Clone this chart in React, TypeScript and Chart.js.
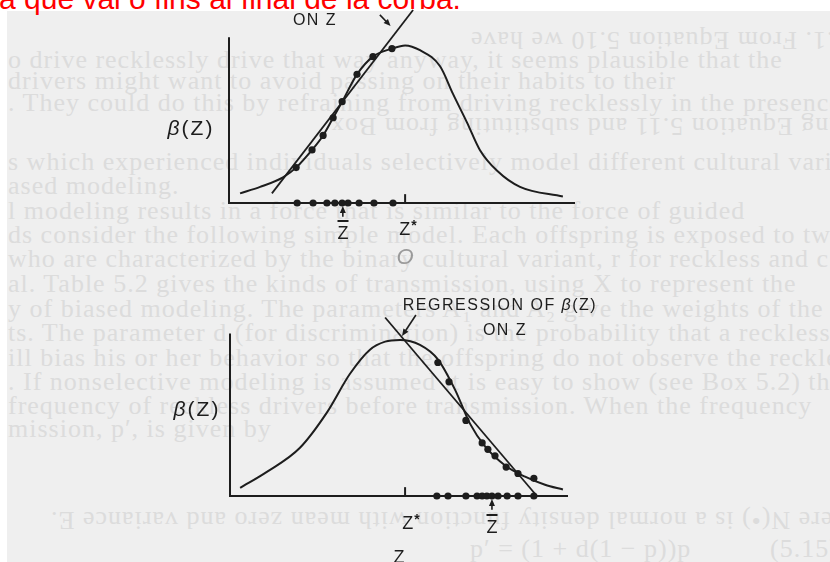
import React, { useEffect, useRef } from "react";
import { Chart, registerables } from "chart.js";

Chart.register(...registerables);

// ---------- DATA (upper diagram) ----------
const topCurveZ = [0.32, 0.9, 1.56, 1.94, 2.4, 2.72, 3.01, 3.27, 3.7, 4.16, 4.71, 5.09, 5.52, 6.1, 6.47, 6.88, 7.25, 7.75, 8.41, 9.65];
const topCurveB = [0.06, 0.1, 0.16, 0.22, 0.33, 0.42, 0.53, 0.63, 0.8, 0.91, 0.96, 0.98, 0.95, 0.85, 0.68, 0.5, 0.33, 0.2, 0.1, 0.04];
const topDotZ = [1.94, 2.4, 2.72, 3.01, 3.27, 3.7, 4.16, 4.71];
const topDotB = [0.22, 0.33, 0.42, 0.53, 0.63, 0.8, 0.91, 0.96];
const topAxisDotZ = [1.97, 2.43, 2.83, 3.06, 3.27, 3.44, 3.76, 4.19, 4.74];
const topRegZ = [1.24, 5.32];
const topRegB = [0.06, 1.2];
const topZStar = 5.09;
const topZBar = 3.29;
const topPointerZ = [4.36, 4.67];
const topPointerB = [1.17, 1.1];

// ---------- DATA (lower diagram) ----------
const botCurveZ = [0.3, 1.09, 2.07, 2.87, 3.55, 4.14, 4.59, 5.03, 5.62, 6.15, 6.66, 7.1, 7.54, 8.14, 8.73, 9.32, 9.85];
const botCurveB = [0.05, 0.15, 0.3, 0.52, 0.76, 0.91, 0.96, 0.97, 0.94, 0.85, 0.66, 0.45, 0.31, 0.19, 0.12, 0.07, 0.04];
const botDotZ = [6.15, 6.48, 6.98, 7.46, 7.63, 7.84, 8.17, 8.52, 8.99];
const botDotB = [0.83, 0.71, 0.47, 0.33, 0.29, 0.25, 0.18, 0.14, 0.11];
const botAxisDotZ = [6.12, 6.45, 6.98, 7.31, 7.46, 7.6, 7.75, 7.93, 8.2, 8.52, 8.99];
const botRegZ = [4.59, 9.08];
const botRegB = [1.11, 0];
const botZStar = 5.18;
const botZBar = 7.75;
const botPointerZ = [5.5, 5.09];
const botPointerB = [1.125, 0.995];

// shared
const axisZEnd = 10;
const topAxisBTop = 1.03;
const botAxisBTop = 1.01;

const INK = "#1d1d1d";

type Panel = { ox: number; oy: number; kx: number; ky: number; left: number; top: number; width: number; height: number };
const TOP_PANEL: Panel = { ox: 229, oy: 203, kx: 34.6, ky: 160.83, left: 194, top: 2, width: 416, height: 234 };
const BOT_PANEL: Panel = { ox: 230, oy: 496, kx: 33.8, ky: 160.83, left: 196, top: 295, width: 416, height: 234 };

const zip = (xs: number[], ys: number[]) => xs.map((x, i) => ({ x, y: ys[i] }));

const arrowPlugin = {
  id: "arrows",
  afterDatasetsDraw(chart: any, _args: any, opts: any) {
    const ctx = chart.ctx;
    const xs = chart.scales.x;
    const ys = chart.scales.y;
    (opts.items || []).forEach((a: number[]) => {
      const x1 = xs.getPixelForValue(a[0]);
      const y1 = ys.getPixelForValue(a[1]);
      const x2 = xs.getPixelForValue(a[2]);
      const y2 = ys.getPixelForValue(a[3]);
      const ang = Math.atan2(y2 - y1, x2 - x1);
      const hl = 7;
      const hw = 3;
      ctx.save();
      ctx.strokeStyle = INK;
      ctx.fillStyle = INK;
      ctx.lineWidth = 1.6;
      ctx.beginPath();
      ctx.moveTo(x1, y1);
      ctx.lineTo(x2 - Math.cos(ang) * hl * 0.6, y2 - Math.sin(ang) * hl * 0.6);
      ctx.stroke();
      ctx.beginPath();
      ctx.moveTo(x2, y2);
      ctx.lineTo(x2 - Math.cos(ang) * hl - Math.sin(ang) * hw, y2 - Math.sin(ang) * hl + Math.cos(ang) * hw);
      ctx.lineTo(x2 - Math.cos(ang) * hl + Math.sin(ang) * hw, y2 - Math.sin(ang) * hl - Math.cos(ang) * hw);
      ctx.closePath();
      ctx.fill();
      ctx.restore();
    });
  },
};

function buildConfig(p: Panel, d: any): any {
  const xmin = (p.left - p.ox) / p.kx;
  const xmax = (p.left + p.width - p.ox) / p.kx;
  const ymax = (p.oy - p.top) / p.ky;
  const ymin = (p.oy - p.top - p.height) / p.ky;
  const base = { clip: false, borderColor: INK, backgroundColor: INK };
  return {
    type: "scatter",
    data: {
      datasets: [
        { ...base, data: [{ x: 0, y: d.axisTop }, { x: 0, y: 0 }, { x: axisZEnd, y: 0 }], showLine: true, borderWidth: 2, pointRadius: 0, tension: 0 },
        { ...base, data: zip(d.curveZ, d.curveB), showLine: true, borderWidth: 2, pointRadius: 0, cubicInterpolationMode: "monotone" },
        { ...base, data: zip(d.regZ, d.regB), showLine: true, borderWidth: 1.8, pointRadius: 0 },
        { ...base, data: zip(d.dotZ, d.dotB), pointRadius: 3.6, borderWidth: 0 },
        { ...base, data: d.axisDotZ.map((z: number) => ({ x: z, y: 0 })), pointRadius: 3.6, borderWidth: 0 },
        { ...base, data: [{ x: d.zStar, y: 0 }, { x: d.zStar, y: 0.055 }], showLine: true, borderWidth: 2, pointRadius: 0 },
      ],
    },
    options: {
      animation: false,
      responsive: false,
      events: [],
      layout: { padding: 0, autoPadding: false },
      scales: {
        x: { type: "linear", display: false, min: xmin, max: xmax },
        y: { type: "linear", display: false, min: ymin, max: ymax },
      },
      plugins: {
        legend: { display: false },
        tooltip: { enabled: false },
        arrows: {
          items: [
            [d.pointerZ[0], d.pointerB[0], d.pointerZ[1], d.pointerB[1]],
            [d.zBar, -0.085, d.zBar, -0.018],
          ],
        },
      },
    },
    plugins: [arrowPlugin],
  };
}

function Diagram({ p, d }: { p: Panel; d: any }) {
  const ref = useRef<HTMLCanvasElement>(null);
  useEffect(() => {
    if (!ref.current) return;
    const c = new Chart(ref.current, buildConfig(p, d));
    return () => c.destroy();
  }, []);
  return (
    <canvas
      ref={ref}
      width={p.width}
      height={p.height}
      style={{ position: "absolute", left: p.left, top: p.top, width: p.width, height: p.height }}
    />
  );
}

const topData = {
  curveZ: topCurveZ, curveB: topCurveB, dotZ: topDotZ, dotB: topDotB, axisDotZ: topAxisDotZ,
  regZ: topRegZ, regB: topRegB, zStar: topZStar, zBar: topZBar, pointerZ: topPointerZ, pointerB: topPointerB, axisTop: topAxisBTop,
};
const botData = {
  curveZ: botCurveZ, curveB: botCurveB, dotZ: botDotZ, dotB: botDotB, axisDotZ: botAxisDotZ,
  regZ: botRegZ, regB: botRegB, zStar: botZStar, zBar: botZBar, pointerZ: botPointerZ, pointerB: botPointerB, axisTop: botAxisBTop,
};

// faint show-through text of the scanned book page
const ghostLines: [number, number, string, boolean?][] = [
  [40, 470, "Box 5.1. From Equation 5.10 we have", true],
  [60, 8, "o drive recklessly drive that way anyway, it seems plausible that the"],
  [81, 8, "drivers might want to avoid passing on their habits to their"],
  [103, 8, ". They could do this by refraining from driving recklessly in the presence"],
  [126, 330, "Using Equation 5.11 and substituting from Box", true],
  [162, 8, "s which experienced individuals selectively model different cultural vari-"],
  [186, 8, "ased modeling."],
  [211, 8, "l modeling results in a force that is similar to the force of guided"],
  [235, 8, "ds consider the following simple model. Each offspring is exposed to two"],
  [259, 8, "who are characterized by the binary cultural variant, r for reckless and c"],
  [284, 8, "al. Table 5.2 gives the kinds of transmission, using X to represent the"],
  [309, 8, "y of biased modeling. The parameters A\u2081 and A\u2082 give the weights of the"],
  [333, 8, "ts. The parameter d (for discrimination) is the probability that a reckless"],
  [358, 8, "ill bias his or her behavior so that the offspring do not observe the reckless"],
  [382, 8, ". If nonselective modeling is assumed it is easy to show (see Box 5.2) that"],
  [406, 8, "frequency of reckless drivers before transmission. When the frequency"],
  [429, 8, "mission, p\u2032, is given by"],
  [520, 50, "where N(\u2022) is a normal density function with mean zero and variance E.", true],
  [549, 470, "p\u2032 = (1 + d(1 \u2212 p))p"],
  [549, 770, "(5.15)"],
];

function Label({ x, y, size, children, style }: any) {
  return (
    <div
      style={{
        position: "absolute",
        left: x,
        top: y,
        transform: "translate(-50%, -50%)",
        fontFamily: "'Liberation Sans', Arial, sans-serif",
        fontSize: size,
        color: INK,
        whiteSpace: "nowrap",
        lineHeight: 1,
        ...style,
      }}
    >
      {children}
    </div>
  );
}

function ZBar({ x, y }: { x: number; y: number }) {
  return (
    <Label x={x} y={y} size={18}>
      <span style={{ display: "inline-block", borderTop: `2px solid ${INK}`, paddingTop: 2 }}>Z</span>
    </Label>
  );
}

function ZStar({ x, y }: { x: number; y: number }) {
  return (
    <Label x={x} y={y} size={18}>
      Z<span style={{ fontSize: 14, fontWeight: "bold", verticalAlign: "5px", marginLeft: 1 }}>*</span>
    </Label>
  );
}

export default function App() {
  return (
    <div style={{ position: "fixed", left: 0, top: 0, width: 830, height: 562, background: "#ffffff", overflow: "hidden" }}>
      <div style={{ position: "absolute", left: 7, top: 11, right: 0, bottom: 0, background: "#efefef" }} />
      {ghostLines.map(([y, x, t, flip], i) => (
        <div
          key={i}
          style={{
            position: "absolute",
            left: x,
            top: y - 13,
            fontFamily: "'Liberation Serif', serif",
            fontSize: 26,
            letterSpacing: 1,
            lineHeight: "26px",
            color: "#dcdcdc",
            whiteSpace: "nowrap",
            transform: flip ? "rotate(180deg)" : undefined,
          }}
        >
          {t}
        </div>
      ))}
      <div
        style={{
          position: "absolute",
          left: 0,
          top: 0,
          width: 830,
          height: 11,
          background: "#ffffff",
        }}
      />
      <div
        style={{
          position: "absolute",
          left: -1,
          top: -16,
          fontFamily: "'Liberation Sans', Arial, sans-serif",
          fontSize: 30,
          lineHeight: "30px",
          color: "#ff0000",
          whiteSpace: "nowrap",
        }}
      >
        a que vai o fins al final de la corba.
      </div>

      <Diagram p={TOP_PANEL} d={topData} />
      <Diagram p={BOT_PANEL} d={botData} />

      {/* upper diagram labels */}
      <Label x={315} y={20} size={16} style={{ letterSpacing: 1.5 }}>ON Z</Label>
      <Label x={191} y={127} size={21} style={{ letterSpacing: 2 }}>
        <i>β</i>(Z)
      </Label>
      <ZBar x={343} y={231} />
      <ZStar x={408} y={228} />
      <Label x={405} y={257} size={22} style={{ color: "#9a9a9a", fontStyle: "italic" }}>O</Label>

      {/* lower diagram labels */}
      <Label x={500} y={305} size={16} style={{ letterSpacing: 1.5 }}>
        REGRESSION OF <i>β</i>(Z)
      </Label>
      <Label x={505} y={330} size={16} style={{ letterSpacing: 1.5 }}>ON Z</Label>
      <Label x={197} y={408} size={21} style={{ letterSpacing: 2 }}>
        <i>β</i>(Z)
      </Label>
      <ZStar x={411} y={522} />
      <ZBar x={492} y={525} />
      <Label x={399} y={557} size={18}>Z</Label>
    </div>
  );
}
